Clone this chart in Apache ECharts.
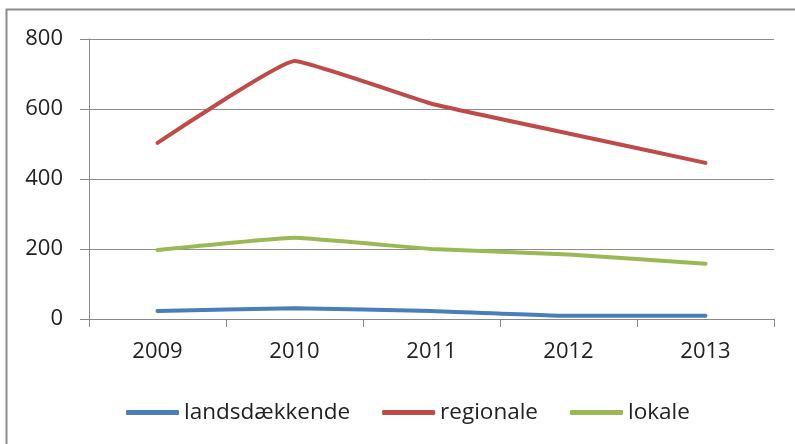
<!DOCTYPE html>
<html>
<head>
<meta charset="utf-8">
<script src="https://cdn.jsdelivr.net/npm/echarts@6/dist/echarts.min.js"></script>
<style>
html, body { margin: 0; padding: 0; background: #fff; }
#myChart { width: 795px; height: 444px; }
</style>
</head>
<body>
<div id="myChart"></div>
<script>
// data
var years = ['2009', '2010', '2011', '2012', '2013'];
var landsdaekkende = [23, 31, 23, 9, 9];
var regionale = [503, 737, 615, 530, 446];
var lokale = [197, 232, 200, 184, 158];
var yTicks = [0, 200, 400, 600, 800];

var fontFamily = '"Open Sans", "Noto Sans", sans-serif';
var lineW = 4;

var myChart = echarts.init(document.getElementById('myChart'));
myChart.setOption({
    animation: false,
    graphic: [{
        type: 'rect',
        shape: { x: 6.5, y: 9.5, width: 820, height: 460 },
        style: { fill: 'none', stroke: '#8c8c8c', lineWidth: 2 },
        silent: true
    }],
    grid: { left: 89, right: 21, top: 39, bottom: 125 },
    legend: {
        left: 121,
        top: 396,
        icon: 'roundRect',
        itemWidth: 53,
        itemHeight: 5,
        itemGap: 32,
        textStyle: { fontFamily: fontFamily, fontSize: 22.5, color: '#222' },
        data: ['landsdækkende', 'regionale', 'lokale']
    },
    xAxis: {
        type: 'category',
        data: years,
        boundaryGap: true,
        axisLine: { show: true, lineStyle: { color: '#888', width: 1 } },
        axisTick: { show: true, length: 8, lineStyle: { color: '#888' } },
        axisLabel: { fontFamily: fontFamily, fontSize: 22, color: '#222', margin: 22 }
    },
    yAxis: {
        type: 'value',
        min: yTicks[0],
        max: yTicks[yTicks.length - 1],
        interval: 200,
        axisLine: { show: true, lineStyle: { color: '#888', width: 1 } },
        axisTick: { show: true, length: 9, lineStyle: { color: '#888' } },
        splitLine: { lineStyle: { color: '#8c8c8c', width: 1 } },
        axisLabel: { fontFamily: fontFamily, fontSize: 22, color: '#222', margin: 26 }
    },
    series: [
        {
            name: 'landsdækkende', type: 'line', data: landsdaekkende,
            smooth: 0.1, showSymbol: false, color: '#4a7ebb',
            lineStyle: { width: lineW, cap: 'round' }
        },
        {
            name: 'regionale', type: 'line', data: regionale,
            smooth: 0.1, showSymbol: false, color: '#be4b48',
            lineStyle: { width: lineW, cap: 'round' }
        },
        {
            name: 'lokale', type: 'line', data: lokale,
            smooth: 0.1, showSymbol: false, color: '#98b954',
            lineStyle: { width: lineW, cap: 'round' }
        }
    ]
});
</script>
</body>
</html>
